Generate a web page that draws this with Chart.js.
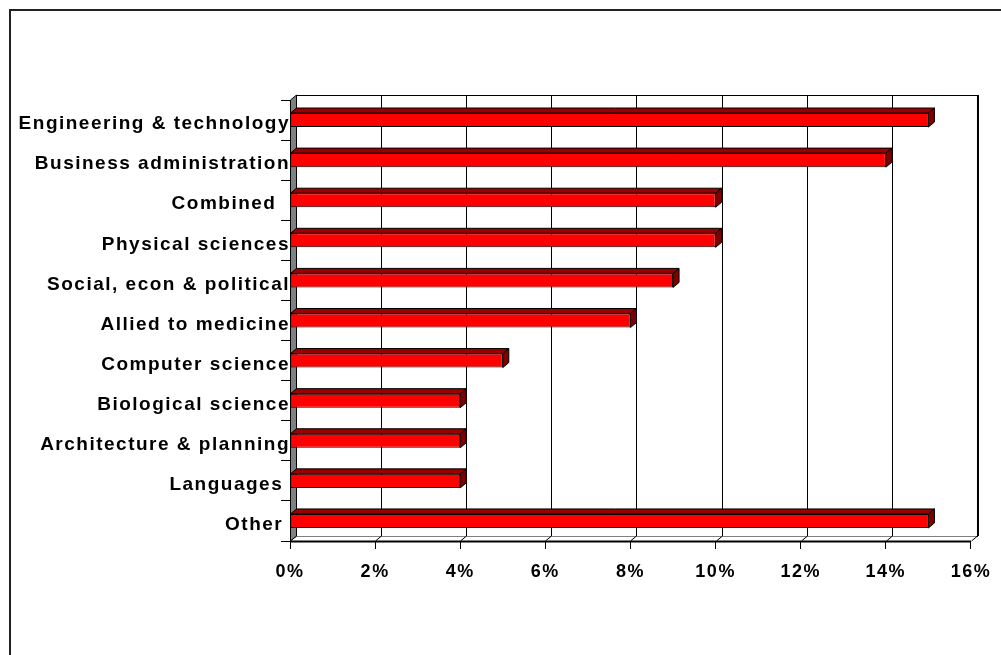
<!DOCTYPE html>
<html><head><meta charset="utf-8">
<script src="https://cdn.jsdelivr.net/npm/chart.js@4/dist/chart.umd.min.js"></script>
<style>html,body{margin:0;padding:0;background:#fff;}#wrap{width:1001px;height:655px;position:relative;}</style>
</head><body><div id="wrap"><canvas id="c" width="1001" height="655"></canvas></div>
<script>
const categories = ["Engineering & technology","Business administration","Combined  ","Physical sciences","Social, econ & political","Allied to medicine","Computer science","Biological science","Architecture & planning","Languages ","Other "];
const shares = [15,14,10,10,9,8,5,4,4,4,15];
const xTicks = [0,2,4,6,8,10,12,14,16];

const DX = 6, DY = 5;
const threeD = {
  id:'threeD',
  beforeDraw(chart){
    chart.ctx.letterSpacing = '1.5px';
  },
  beforeDatasetsDraw(chart){
    const ctx = chart.ctx, a = chart.chartArea, xs = chart.scales.x;
    const L = a.left, R = a.right, T = a.top, B = a.bottom;
    ctx.save();
    ctx.letterSpacing='0px';
    // outer border
    ctx.strokeStyle='#222'; ctx.lineWidth=2;
    ctx.beginPath(); ctx.moveTo(10,655); ctx.lineTo(10,10); ctx.lineTo(1001,10); ctx.stroke();
    ctx.lineWidth=1; ctx.strokeStyle='#000';
    // back wall
    ctx.fillStyle='#fff';
    ctx.fillRect(L+DX,T-DY,R-L,B-T);
    ctx.strokeRect(L+DX+0.5,T-DY+0.5,R-L,B-T);
    // gridlines on back wall
    xTicks.forEach(v=>{
      const x = Math.round(xs.getPixelForValue(v))+DX+0.5;
      ctx.beginPath(); ctx.moveTo(x,T-DY); ctx.lineTo(x,B-DY); ctx.stroke();
    });
    ctx.lineWidth=2;
    ctx.beginPath(); ctx.moveTo(R+DX+1,T-DY); ctx.lineTo(R+DX+1,B-DY); ctx.stroke();
    ctx.lineWidth=1;
    // floor
    ctx.fillStyle='#fff';
    ctx.beginPath(); ctx.moveTo(L,B+0.5); ctx.lineTo(R,B+0.5); ctx.lineTo(R+DX,B-DY+0.5); ctx.lineTo(L+DX,B-DY+0.5); ctx.closePath(); ctx.fill();
    ctx.lineWidth=2;
    ctx.beginPath(); ctx.moveTo(L,B+0.5); ctx.lineTo(R,B+0.5); ctx.stroke();
    ctx.lineWidth=1;
    xTicks.forEach(v=>{
      const x = Math.round(xs.getPixelForValue(v))+0.5;
      ctx.beginPath(); ctx.moveTo(x,B); ctx.lineTo(x+DX,B-DY); ctx.stroke();
    });
    // left wall
    ctx.fillStyle='#808080';
    ctx.beginPath(); ctx.moveTo(L+0.5,T); ctx.lineTo(L+DX+0.5,T-DY); ctx.lineTo(L+DX+0.5,B-DY); ctx.lineTo(L+0.5,B); ctx.closePath(); ctx.fill(); ctx.stroke();
    ctx.restore();
  },
  afterDatasetsDraw(chart){
    const ctx = chart.ctx;
    const meta = chart.getDatasetMeta(0);
    ctx.save();
    ctx.strokeStyle='#000'; ctx.lineWidth=1; ctx.lineJoin='miter';
    meta.data.forEach(el=>{
      const p = el.getProps(['x','y','base','height'],true);
      const t = p.y - p.height/2, b = p.y + p.height/2;
      ctx.fillStyle='#990000';
      ctx.beginPath(); ctx.moveTo(p.base,t); ctx.lineTo(p.x,t); ctx.lineTo(p.x+DX,t-DY); ctx.lineTo(p.base+DX,t-DY); ctx.closePath(); ctx.fill(); ctx.stroke();
      ctx.fillStyle='#800000';
      ctx.beginPath(); ctx.moveTo(p.x,t); ctx.lineTo(p.x+DX,t-DY); ctx.lineTo(p.x+DX,b-DY); ctx.lineTo(p.x,b); ctx.closePath(); ctx.fill(); ctx.stroke();
    });
    ctx.restore();
  }
};

new Chart(document.getElementById('c'), {
  type:'bar',
  data:{ labels:categories, datasets:[{ data:shares, backgroundColor:'#FF0000', borderColor:'#000', borderWidth:1, borderSkipped:false, categoryPercentage:1, barPercentage:0.35 }]},
  options:{
    indexAxis:'y', responsive:false, animation:false, devicePixelRatio:1,
    layout:{ padding:{ top:100, right:29, bottom:0, left:0 } },
    plugins:{ legend:{display:false}, tooltip:{enabled:false}, title:{display:false} },
    scales:{
      x:{ min:0, max:16, afterBuildTicks(s){ s.ticks = xTicks.map(v=>({value:v})); },
        afterFit(s){ s.height = 114; },
        ticks:{ callback:v=>v+'%', color:'#000', font:{family:'Liberation Sans', size:18, weight:'bold'}, padding:12, maxRotation:0 },
        grid:{ drawOnChartArea:false, drawTicks:true, tickLength:8, color:'#000' },
        border:{ display:false } },
      y:{ afterFit(s){ s.width = 290; },
        ticks:{ color:'#000', font:{family:'Liberation Sans', size:19, weight:'bold'}, padding:-9, autoSkip:false, labelOffset:4 },
        grid:{ offset:true, drawOnChartArea:false, drawTicks:true, tickLength:9, color:'#000' },
        border:{ display:false } }
    }
  },
  plugins:[threeD]
});
</script></body></html>
